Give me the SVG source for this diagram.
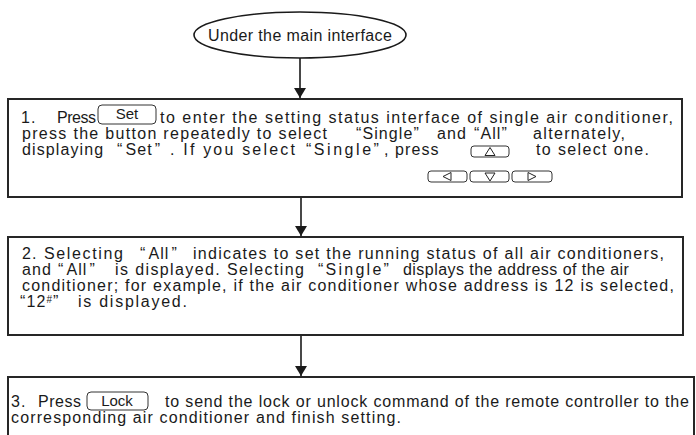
<svg xmlns="http://www.w3.org/2000/svg" width="696" height="435" viewBox="0 0 696 435">
<style>
.t{font-family:"Liberation Sans",Arial,sans-serif;font-size:16px;fill:#1a1a1a;letter-spacing:1.1px}
.bt{font-family:"Liberation Sans",Arial,sans-serif;font-size:15px;fill:#1a1a1a;text-anchor:middle}
.bx{fill:none;stroke:#262626;stroke-width:2}
.btn{fill:#fff;stroke:#333;stroke-width:1}
.ico{fill:none;stroke:#222;stroke-width:1}
.ln{stroke:#1a1a1a;stroke-width:1.6;fill:none}
</style>
<defs>
<marker id="ah" viewBox="0 0 10 12" refX="10" refY="6" markerWidth="10" markerHeight="12" markerUnits="userSpaceOnUse" orient="auto">
<path d="M0,0 L10,6 L0,12 Z" fill="#1a1a1a"/>
</marker>
</defs>
<rect width="696" height="435" fill="#fff"/>
<g id="connectors">
<line class="ln" x1="300" y1="58" x2="300" y2="98" marker-end="url(#ah)"/>
<line class="ln" x1="301" y1="198" x2="301" y2="236" marker-end="url(#ah)"/>
<line class="ln" x1="301" y1="336" x2="301" y2="376" marker-end="url(#ah)"/>
</g>
<g id="start">
<ellipse cx="300" cy="35" rx="106" ry="23" fill="#fff" stroke="#1a1a1a" stroke-width="1.6"/>
<text class="t" x="208" y="41" textLength="185">Under the main interface</text>
</g>
<g id="step1">
<rect class="bx" x="8" y="99" width="674" height="98"/>
<text class="t" x="21" y="123">1.</text>
<text class="t" x="57" y="123" textLength="40">Press</text>
<rect class="btn" x="98" y="105" width="58" height="19" rx="4"/>
<text class="bt" x="127" y="119">Set</text>
<text class="t" x="160" y="123" textLength="514">to enter the setting status interface of single air conditioner,</text>
<text class="t" x="22" y="139" textLength="306">press the button repeatedly to select</text>
<text class="t" x="356" y="139">“Single”</text>
<text class="t" x="437" y="139">and</text>
<text class="t" x="474" y="139">“All”</text>
<text class="t" x="533" y="139" textLength="93">alternately,</text>
<text class="t" x="22" y="155">displaying</text>
<text class="t" x="117" y="155">“<tspan dx="2">Set</tspan><tspan dx="2">”</tspan></text>
<text class="t" x="170" y="155" textLength="126">. If you select</text>
<text class="t" x="306" y="155" textLength="74">“Single”</text>
<text class="t" x="384" y="155">, press</text>
<rect class="btn" x="471" y="146" width="38" height="11" rx="3"/>
<polygon class="ico" points="490,147.5 485,155.5 495,155.5"/>
<text class="t" x="536" y="155" textLength="114">to select one.</text>
<rect class="btn" x="428" y="171" width="39" height="11" rx="3"/>
<polygon class="ico" points="443,176.5 451,172.5 451,180.5"/>
<rect class="btn" x="470" y="171" width="39" height="11" rx="3"/>
<polygon class="ico" points="485,173 495,173 490,181"/>
<rect class="btn" x="512" y="171" width="40" height="11" rx="3"/>
<polygon class="ico" points="528,172.5 528,180.5 536,176.5"/>
</g>
<g id="step2">
<rect class="bx" x="8" y="237" width="675" height="98"/>
<text class="t" x="22" y="259">2.</text>
<text class="t" x="44" y="259" textLength="80">Selecting</text>
<text class="t" x="140" y="259">“<tspan dx="2">All</tspan><tspan dx="2">”</tspan></text>
<text class="t" x="193" y="259" textLength="472">indicates to set the running status of all air conditioners,</text>
<text class="t" x="22" y="275">and</text>
<text class="t" x="58" y="275">“<tspan dx="2">All</tspan><tspan dx="2">”</tspan></text>
<text class="t" x="115" y="275" textLength="190">is displayed. Selecting</text>
<text class="t" x="318" y="275" textLength="72">“Single”</text>
<text class="t" x="403" y="275" textLength="227">displays the address of the air</text>
<text class="t" x="22" y="291" textLength="653">conditioner; for example, if the air conditioner whose address is 12 is selected,</text>
<text class="t" x="20" y="307">“12<tspan font-size="10" dy="-4">#</tspan><tspan dy="4">”</tspan></text>
<text class="t" x="78" y="307" textLength="110">is displayed.</text>
</g>
<g id="step3">
<path class="bx" d="M8,436 V377 H694 V436"/>
<text class="t" x="11" y="407">3.</text>
<text class="t" x="38" y="407" textLength="44">Press</text>
<rect class="btn" x="87" y="392" width="61" height="18" rx="4"/>
<text class="bt" x="117" y="406">Lock</text>
<text class="t" x="165" y="407" textLength="525">to send the lock or unlock command of the remote controller to the</text>
<text class="t" x="11" y="423" textLength="391">corresponding air conditioner and finish setting.</text>
</g>
</svg>
